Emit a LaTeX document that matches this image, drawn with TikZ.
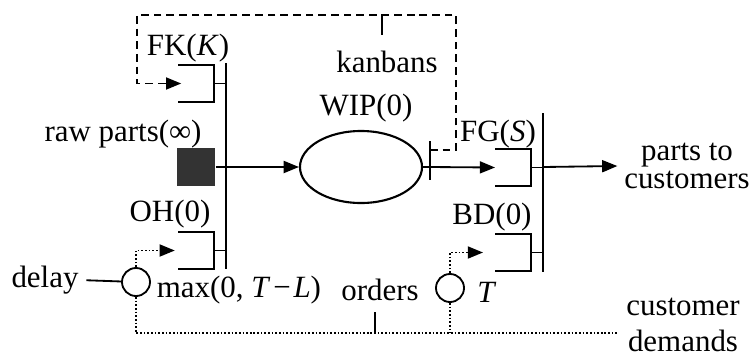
\documentclass[tikz,border=0pt]{standalone}
\usepackage{fontspec}
\setmainfont{Liberation Serif}
\usetikzlibrary{arrows.meta,shapes.geometric}

\begin{document}
\begin{tikzpicture}[x=0.025cm, y=-0.025cm, line width=1.3pt,
  every node/.style={font=\fontsize{22}{26}\selectfont, inner sep=0pt},
  tip/.style={-{Triangle[length=3.8mm,width=3mm]}},
  kanban/.style={dash pattern=on 5.5pt off 3.5pt},
  demand/.style={dash pattern=on 1.2pt off 1.4pt}]
  \useasboundingbox (0,0) rectangle (754,357);

  % Raw parts, WIP and the two delay points
  \node[rectangle, fill=black!80, minimum size=0.95cm] (raw) at (196,167) {};
  \node[ellipse, draw, line width=1.5pt, minimum width=3.05cm, minimum height=1.8cm] (wip) at (361,167) {};
  \node[circle, draw, minimum size=0.7cm] (dly) at (136,282) {};
  \node[circle, draw, minimum size=0.7cm] (ord) at (450,288) {};

  % Buffers (open boxes) and their links to the bars
  \foreach \n/\bx/\by in {fk/178/65, oh/178/232, fg/495/149, bd/495/234} {
    \draw (\bx,\by) -| (\bx+36,\by+37) -- (\bx,\by+37);
    \draw (\bx+36,\by+18.5) -- (\bx+48,\by+18.5);
    \coordinate (\n) at (\bx,\by+18.5);
  }
  \node (fklab) at (188,48) {FK(\textit{K})};
  \node (ohlab) at (170,214) {OH(0)};
  \node (fglab) at (498,134) {FG(\textit{S})};
  \node (bdlab) at (492,217) {BD(0)};

  % Synchronization bars
  \draw (226,63) -- (226,269);
  \draw (543,113) -- (543,272);
  \draw (430,141) -- (430,180);
  \coordinate (wipbar) at (430,167);
  \coordinate (fgbar) at (543,167);

  % Parts flow
  \draw[tip] (raw) -- (wip);
  \draw (wip) -- (wipbar);
  \draw[tip] (wipbar) -- (fg);
  \node[align=center, font=\fontsize{22}{20}\selectfont] (out) at (687,166) {parts to\\customers};
  \draw[tip] (fgbar) -- ([xshift=-0.15cm]out.west);

  % Kanban loop
  \coordinate (kfree) at (430,150);
  \draw[kanban, tip] (kfree) -| (456,15) -| (137,83.5) -- ([xshift=0.08cm]fk);
  \draw (382,15) -- (382,35);
  \node (kan) at (387,62) {kanbans};

  % Demands and orders
  \node[align=center] (dem) at (683,325) {customer\\demands};
  \coordinate (demend) at (618,333);
  \draw[demand] (dly.south) |- (demend);
  \draw[demand] (ord.south) -- (ord.south |- demend);
  \draw[demand, tip] (dly.north) |- ([xshift=-0.08cm]oh);
  \draw[demand, tip] (ord.north) |- ([xshift=-0.3cm]bd);
  \draw (375,312) -- (375,333);

  % Labels
  \node (rawlab) at (123,134) {raw parts(∞)};
  \node (wiplab) at (366,108) {WIP(0)};
  \node (dlylab) at (45,280) {delay};
  \draw[shorten <=1.75mm] (dlylab.east) -- (dly);
  \node[anchor=west] (maxlab) at (156,290) {max(0, \textit{T}\kern2pt−\kern2pt\textit{L})};
  \node (ordlab) at (380,290) {orders};
  \node (tlab) at (487,292) {\textit{T}};
\end{tikzpicture}
\end{document}
